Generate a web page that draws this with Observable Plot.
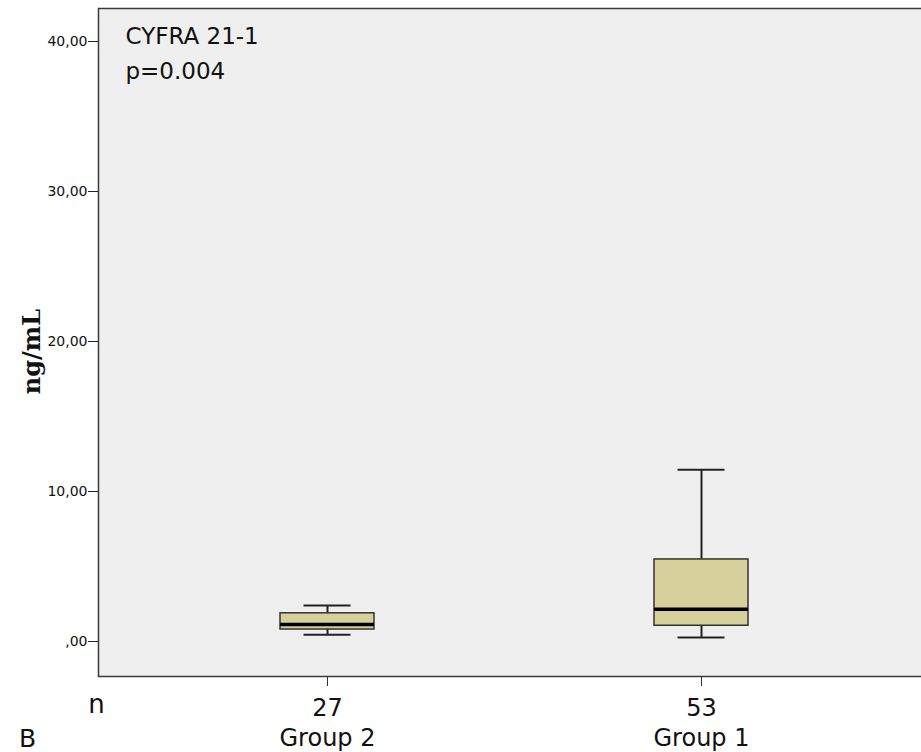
<!DOCTYPE html>
<html><head><meta charset="utf-8">
<script src="https://cdn.jsdelivr.net/npm/d3@7"></script>
<script src="https://cdn.jsdelivr.net/npm/@observablehq/plot@0.6"></script>
<style>
html,body{margin:0;padding:0;background:#fff;overflow:hidden;}
#chart{width:921px;height:752px;overflow:hidden;}
#chart svg{display:block;max-width:none !important;width:940px !important;height:752px !important;}
</style></head><body><div id="chart"></div>
<script>
const groups = ["Group 2", "Group 1"];
const counts = [27, 53];
const whiskerLow = [0.45, 0.27];
const q1 = [0.80, 1.05];
const median = [1.13, 2.15];
const q3 = [1.88, 5.47];
const whiskerHigh = [2.40, 11.45];
const yTicks = [0, 10, 20, 30, 40];
const yTickLabels = [",00", "10,00", "20,00", "30,00", "40,00"];
const title = "CYFRA 21-1";
const pLabel = "p=0.004";
const yLabel = "ng/mL";
const nLabel = "n";
const panelLabel = "B";

const data = groups.map((g, i) => ({
  group: g, n: counts[i], lo: whiskerLow[i], q1: q1[i], med: median[i], q3: q3[i], hi: whiskerHigh[i]
}));

const sans = "DejaVu Sans, Verdana, sans-serif";
const boxFill = "#d5d09c";

const chart = Plot.plot({
  width: 940,
  height: 752,
  marginLeft: 98,
  marginRight: 10,
  marginTop: 8,
  marginBottom: 76,
  style: {background: "#ffffff", fontFamily: sans, color: "#111"},
  x: {type: "band", domain: groups, range: [98, 930], paddingInner: 0.7487, paddingOuter: 0.4866, align: 0.5},
  y: {domain: [-2.333, 42.2], range: [676, 8]},
  marks: [
    Plot.frame({fill: "#efefef", stroke: "#3a3a3a", strokeWidth: 1.5}),
    Plot.ruleX(data, {x: "group", y1: "lo", y2: "q1", stroke: "#222", strokeWidth: 2}),
    Plot.ruleX(data, {x: "group", y1: "q3", y2: "hi", stroke: "#222", strokeWidth: 2}),
    Plot.tickY(data, {x: "group", y: "lo", insetLeft: 23.5, insetRight: 23.5, stroke: "#222", strokeWidth: 2}),
    Plot.tickY(data, {x: "group", y: "hi", insetLeft: 23.5, insetRight: 23.5, stroke: "#222", strokeWidth: 2}),
    Plot.barY(data, {x: "group", y1: "q1", y2: "q3", fill: boxFill, stroke: "#333", strokeWidth: 1.5}),
    Plot.tickY(data, {x: "group", y: "med", stroke: "#000", strokeWidth: 3.5}),
    Plot.axisY({ticks: yTicks, tickFormat: d => yTickLabels[yTicks.indexOf(d)], tickSize: 10, tickPadding: 1, fontSize: 14, label: null, stroke: "#222"}),
    Plot.axisX({tickSize: 10, tickFormat: () => "", label: null, stroke: "#333"}),
    Plot.text(data, {x: "group", text: d => String(d.n), frameAnchor: "bottom", dy: 39, lineAnchor: "bottom", fontSize: 24, fill: "#111"}),
    Plot.text(data, {x: "group", text: "group", frameAnchor: "bottom", dy: 69, lineAnchor: "bottom", fontSize: 24, fill: "#111"}),
    Plot.text([nLabel], {text: d => d, frameAnchor: "bottom-left", dx: -2, dy: 36, lineAnchor: "bottom", textAnchor: "middle", fontSize: 26, fill: "#111"}),
    Plot.text([panelLabel], {text: d => d, frameAnchor: "bottom-left", dx: -71, dy: 70, lineAnchor: "bottom", textAnchor: "middle", fontSize: 25, fill: "#111"}),
    Plot.text([title], {text: d => d, frameAnchor: "top-left", dx: 27, dy: 35, lineAnchor: "bottom", textAnchor: "start", fontSize: 23, fill: "#111"}),
    Plot.text([pLabel], {text: d => d, frameAnchor: "top-left", dx: 27, dy: 70, lineAnchor: "bottom", textAnchor: "start", fontSize: 23, fill: "#111"}),
    Plot.text([yLabel], {text: d => d, frameAnchor: "left", dx: -66, dy: 9, rotate: -90, textAnchor: "middle", lineAnchor: "middle", fontSize: 24, fontWeight: "bold", fontFamily: "DejaVu Serif, serif", fill: "#111"})
  ]
});
document.getElementById("chart").appendChild(chart);
</script></body></html>
